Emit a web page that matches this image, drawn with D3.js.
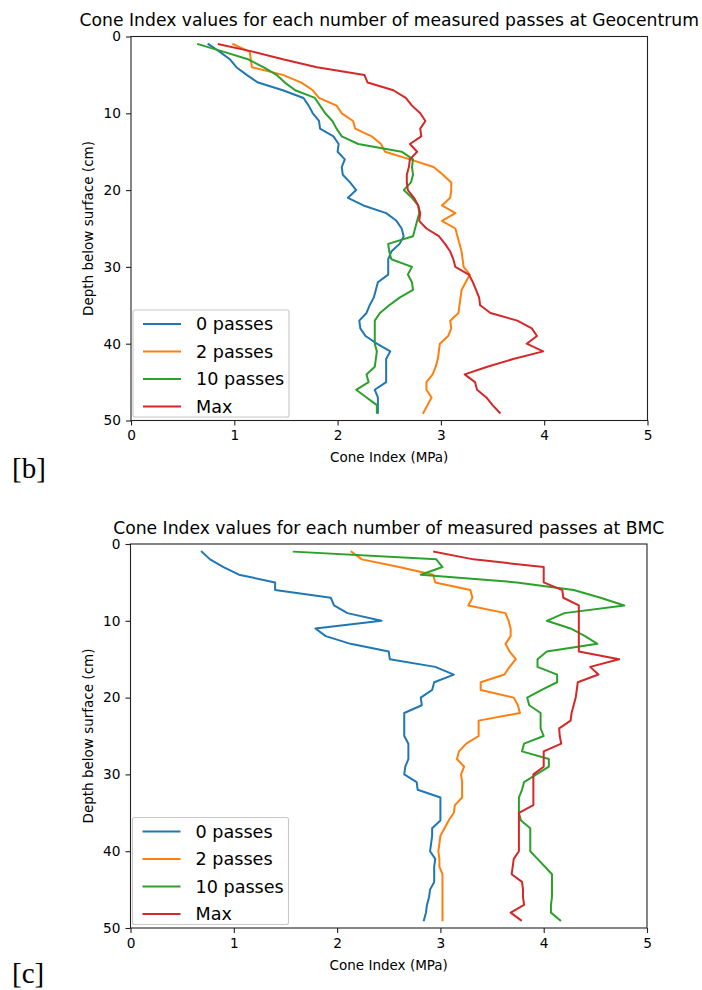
<!DOCTYPE html>
<html>

<head>
    <script src="https://d3js.org/d3.v7.min.js"></script>
    <style>
        body { margin: 0; background: #fff; }
        text { font-family: "DejaVu Sans", sans-serif; fill: #000; }
    </style>
    <script>
        const w = 702
        const h = 990
        const depths = [1, 2, 3, 4, 5, 6, 7, 8, 9, 10, 11, 12, 13, 14, 15, 16, 17, 18, 19, 20,
            21, 22, 23, 24, 25, 26, 27, 28, 29, 30, 31, 32, 33, 34, 35, 36, 37, 38, 39, 40,
            41, 42, 43, 44, 45, 46, 47, 48, 49]
        const seriesNames = ["0 passes", "2 passes", "10 passes", "Max"]
        const colors = ["#1f77b4", "#ff7f0e", "#2ca02c", "#d62728"]
        const xTicks = [0, 1, 2, 3, 4, 5]
        const yTicks = [0, 10, 20, 30, 40, 50]

        // Geocentrum
        const geoZero = [0.75, 0.86, 0.96, 1.02, 1.12, 1.23, 1.47, 1.67, 1.72, 1.76,
            1.82, 1.83, 1.96, 2.01, 2.0, 2.07, 2.04, 2.05, 2.12, 2.18,
            2.1, 2.25, 2.47, 2.57, 2.62, 2.64, 2.60, 2.52, 2.49, 2.49,
            2.49, 2.39, 2.37, 2.35, 2.31, 2.28, 2.21, 2.22, 2.27, 2.38,
            2.51, 2.47, 2.47, 2.47, 2.47, 2.36, 2.39, 2.39, 2.39]
        const geoTwo = [0.99, 1.15, 1.16, 1.17, 1.47, 1.65, 1.76, 1.82, 1.99, 2.04,
            2.15, 2.17, 2.33, 2.42, 2.46, 2.7, 2.93, 3.02, 3.10, 3.10,
            3.09, 3.01, 3.14, 3.01, 3.14, 3.16, 3.18, 3.2, 3.21, 3.22,
            3.28, 3.24, 3.2, 3.19, 3.18, 3.17, 3.09, 3.10, 3.07, 2.99,
            2.98, 2.97, 2.95, 2.92, 2.86, 2.86, 2.91, 2.87, 2.83]
        const geoTen = [0.65, 0.9, 1.14, 1.28, 1.41, 1.49, 1.59, 1.78, 1.83, 1.88,
            1.95, 1.99, 2.04, 2.2, 2.62, 2.73, 2.72, 2.73, 2.71, 2.64,
            2.72, 2.78, 2.79, 2.77, 2.75, 2.73, 2.49, 2.5, 2.52, 2.72,
            2.68, 2.72, 2.73, 2.6, 2.5, 2.41, 2.36, 2.36, 2.36, 2.36,
            2.38, 2.37, 2.36, 2.28, 2.30, 2.18, 2.28, 2.38, 2.38]
        const geoMax = [0.85, 1.19, 1.48, 1.8, 2.26, 2.29, 2.54, 2.66, 2.72, 2.8,
            2.85, 2.8, 2.81, 2.70, 2.77, 2.70, 2.69, 2.67, 2.67, 2.68,
            2.74, 2.78, 2.80, 2.79, 2.86, 2.98, 3.04, 3.09, 3.12, 3.14,
            3.27, 3.31, 3.34, 3.37, 3.38, 3.48, 3.74, 3.88, 3.93, 3.83,
            3.99, 3.7, 3.45, 3.23, 3.33, 3.35, 3.44, 3.5, 3.57]

        // BMC
        const bmcZero = [0.69, 0.77, 0.9, 1.05, 1.40, 1.40, 1.94, 1.97, 2.1, 2.43,
            1.79, 1.89, 2.13, 2.5, 2.51, 2.95, 3.13, 2.94, 2.92, 2.81,
            2.82, 2.65, 2.65, 2.65, 2.65, 2.69, 2.69, 2.69, 2.66, 2.65,
            2.77, 2.78, 3.0, 3.0, 3.0, 3.0, 2.92, 2.92, 2.91, 2.90,
            2.95, 2.94, 2.94, 2.94, 2.90, 2.89, 2.87, 2.86, 2.84]
        const bmcTwo = [2.14, 2.24, 2.6, 2.93, 2.95, 3.29, 3.31, 3.27, 3.63, 3.66,
            3.68, 3.68, 3.63, 3.67, 3.73, 3.67, 3.62, 3.39, 3.39, 3.71,
            3.75, 3.77, 3.37, 3.37, 3.37, 3.25, 3.18, 3.16, 3.23, 3.20,
            3.21, 3.21, 3.21, 3.14, 3.13, 3.08, 3.04, 3.0, 2.99, 2.98,
            2.99, 2.99, 3.02, 3.02, 3.02, 3.02, 3.02, 3.02, 3.02]
        const bmcTen = [1.58, 2.96, 3.02, 2.81, 3.74, 4.29, 4.55, 4.78, 4.2, 4.03,
            4.26, 4.4, 4.52, 4.03, 3.94, 3.94, 4.13, 4.13, 3.98, 3.84,
            3.86, 3.97, 3.97, 3.97, 4.0, 3.81, 3.79, 4.05, 4.05, 3.93,
            3.81, 3.79, 3.76, 3.76, 3.76, 3.78, 3.87, 3.87, 3.87, 3.87,
            3.94, 4.01, 4.08, 4.08, 4.08, 4.08, 4.07, 4.07, 4.16]
        const bmcMax = [2.94, 3.32, 4.0, 4.0, 4.0, 4.18, 4.19, 4.34, 4.34, 4.34,
            4.34, 4.34, 4.34, 4.34, 4.73, 4.45, 4.53, 4.33, 4.32, 4.31,
            4.29, 4.27, 4.26, 4.15, 4.155, 4.17, 4.0, 4.0, 4.0, 3.90,
            3.90, 3.90, 3.90, 3.90, 3.76, 3.76, 3.76, 3.76, 3.76, 3.76,
            3.71, 3.70, 3.69, 3.79, 3.80, 3.80, 3.81, 3.68, 3.78]

        const charts = [
            { title: "Cone Index values for each number of measured passes at Geocentrum", series: [geoZero, geoTwo, geoTen, geoMax], tag: "[b]", box: { left: 131, right: 647.5, top: 36.5, bottom: 420.5 }, tagY: 478 },
            { title: "Cone Index values for each number of measured passes at BMC", series: [bmcZero, bmcTwo, bmcTen, bmcMax], tag: "[c]", box: { left: 130.5, right: 647, top: 544, bottom: 928 }, tagY: 983 }
        ]

        function drawChart(svg, chart) {
            const b = chart.box
            const x = d3.scaleLinear().domain([0, 5]).range([b.left, b.right])
            const y = d3.scaleLinear().domain([0, 50]).range([b.top, b.bottom])
            const g = svg.append("g")

            // lines first so the frame sits on top
            const line = d3.line().x(d => x(d[0])).y(d => y(d[1]))
            chart.series.forEach((vals, i) => {
                g.append("path")
                    .datum(vals.map((v, j) => [v, depths[j]]))
                    .attr("d", line)
                    .attr("fill", "none")
                    .attr("stroke", colors[i])
                    .attr("stroke-width", 2)
                    .attr("stroke-linejoin", "round")
                    .attr("stroke-linecap", "square")
            })

            const xAxis = g.append("g")
                .attr("transform", `translate(0, ${b.bottom})`)
                .call(d3.axisBottom(x).tickValues(xTicks).tickSize(5).tickPadding(5).tickFormat(d3.format("d")))
            const yAxis = g.append("g")
                .attr("transform", `translate(${b.left}, 0)`)
                .call(d3.axisLeft(y).tickValues(yTicks).tickSize(5).tickPadding(5).tickFormat(d3.format("d")))
            ;[xAxis, yAxis].forEach(a => {
                a.select(".domain").remove()
                a.selectAll("line").attr("stroke", "#222").attr("stroke-width", 1.1)
                a.selectAll("text").attr("font-size", 13.7).attr("font-family", "DejaVu Sans").attr("fill", "#222")
            })

            g.append("rect")
                .attr("x", b.left).attr("y", b.top)
                .attr("width", b.right - b.left).attr("height", b.bottom - b.top)
                .attr("fill", "none").attr("stroke", "#222").attr("stroke-width", 1.1)

            g.append("text")
                .attr("x", (b.left + b.right) / 2).attr("y", b.top - 10.5)
                .attr("text-anchor", "middle").attr("font-size", 17.2)
                .text(chart.title)
            g.append("text")
                .attr("x", (b.left + b.right) / 2).attr("y", b.bottom + 41.5)
                .attr("text-anchor", "middle").attr("font-size", 13.5)
                .text("Cone Index (MPa)")
            g.append("text")
                .attr("transform", `translate(92.5, ${(b.top + b.bottom) / 2}) rotate(-90)`)
                .attr("text-anchor", "middle").attr("font-size", 13.5)
                .text("Depth below surface (cm)")

            // legend in the lower left corner
            const lg = g.append("g").attr("transform", `translate(${b.left + 2}, ${b.bottom - 110.5})`)
            lg.append("rect")
                .attr("width", 156).attr("height", 107).attr("rx", 2)
                .attr("fill", "#fff").attr("fill-opacity", 0.8)
                .attr("stroke", "#c8c8c8").attr("stroke-width", 1.1)
            seriesNames.forEach((name, i) => {
                const ly = 14 + i * 27.5
                lg.append("line")
                    .attr("x1", 10).attr("x2", 48).attr("y1", ly).attr("y2", ly)
                    .attr("stroke", colors[i]).attr("stroke-width", 2)
                lg.append("text")
                    .attr("x", 63).attr("y", ly + 6.3)
                    .attr("font-size", 17.6)
                    .text(name)
            })

            svg.append("text")
                .attr("x", 12).attr("y", chart.tagY)
                .attr("font-size", 29)
                .style("font-family", "'Liberation Serif', serif")
                .text(chart.tag)
        }

        function doSVG() {
            const svg = d3.select("body").append("svg")
                .attr("width", w)
                .attr("height", h)
            charts.forEach(c => drawChart(svg, c))
        }
    </script>
</head>

<body onload="doSVG()">
</body>

</html>
